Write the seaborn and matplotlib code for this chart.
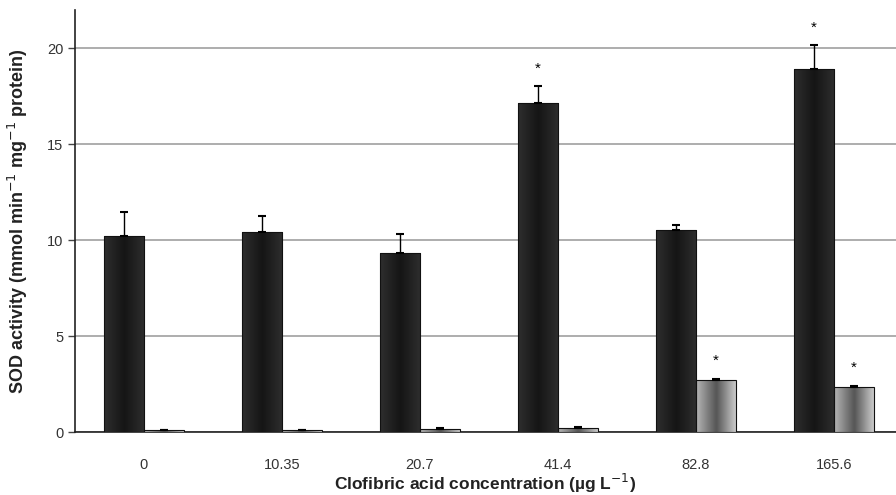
import numpy as np
import pandas as pd
import seaborn as sns
import matplotlib.pyplot as plt
from matplotlib.colors import LinearSegmentedColormap

# data
conc = ['0', '10.35', '20.7', '41.4', '82.8', '165.6']
sod_a = [10.23, 10.45, 9.35, 17.13, 10.55, 18.95]
err_a = [1.25, 0.8, 0.95, 0.9, 0.25, 1.2]
sig_a = [False, False, False, True, False, True]
sod_b = [0.08, 0.08, 0.15, 0.2, 2.72, 2.35]
err_b = [0.02, 0.02, 0.04, 0.04, 0.06, 0.07]
sig_b = [False, False, False, False, True, True]

df = pd.DataFrame({
    'conc': conc * 2,
    'sod': sod_a + sod_b,
    'grp': ['a'] * 6 + ['b'] * 6,
})

sns.set_style('white')
plt.rcParams['font.family'] = ['Liberation Sans', 'DejaVu Sans']

fig = plt.figure(figsize=(8.96, 4.95), dpi=100)
ax = fig.add_axes([75 / 896, 1 - 432 / 495, 1 - 75 / 896, 422 / 495])

sns.barplot(data=df, x='conc', y='sod', hue='grp', order=conc, hue_order=['a', 'b'],
            palette=['#262626', '#8a8a8a'], width=0.58, gap=0, errorbar=None,
            edgecolor='#111111', linewidth=0.8, legend=False, ax=ax, zorder=3)

# cylinder-like shading as in the original
cm_a = LinearSegmentedColormap.from_list('ca', ['#2e2e2e', '#151515', '#2e2e2e'])
cm_b = LinearSegmentedColormap.from_list('cb', ['#b5b5b5', '#555555', '#cfcfcf'])
grad = np.linspace(0, 1, 64).reshape(1, -1)
patches = ax.patches
for i, p in enumerate(patches):
    x0, w, h = p.get_x(), p.get_width(), p.get_height()
    cmap = cm_a if i < 6 else cm_b
    im = ax.imshow(grad, cmap=cmap, extent=[x0, x0 + w, 0, h], aspect='auto',
                   zorder=3.5, interpolation='bicubic')
    im.set_clip_path(p)
    p.set_zorder(4)
    p.set_facecolor('none')

vals = [sod_a, sod_b]
errs = [err_a, err_b]
sigs = [sig_a, sig_b]
for k in range(2):
    xs = [patches[k * 6 + j].get_x() + patches[k * 6 + j].get_width() / 2 for j in range(6)]
    ax.errorbar(xs, vals[k], yerr=[np.zeros(6), errs[k]], fmt='none', ecolor='black',
                elinewidth=1, capsize=3, capthick=1.5, zorder=5)
    for j in range(6):
        if sigs[k][j]:
            ax.text(xs[j], vals[k][j] + errs[k][j] + 0.55, '*', ha='center', va='bottom',
                    fontsize=11, color='black')

ax.set_ylim(0, 22)
ax.set_xlim(-0.5, 5.45)
ax.set_yticks([0, 5, 10, 15, 20])
ax.yaxis.grid(True, color='#a0a0a0', linewidth=1.2, zorder=0)
ax.set_axisbelow(True)
ax.tick_params(axis='y', length=5, width=1, color='#444444', direction='out', left=True,
               labelsize=10.5, labelcolor='#333333')
ax.tick_params(axis='x', length=0, labelsize=10.5, labelcolor='#333333', pad=19)
sns.despine(ax=ax, top=True, right=True)
ax.spines['left'].set_color('#222222')
ax.spines['bottom'].set_color('#222222')
ax.spines['left'].set_linewidth(1.2)
ax.spines['bottom'].set_linewidth(1.2)

ax.set_xlabel('Clofibric acid concentration (µg L$^{-1}$)', fontsize=12.5, fontweight='bold',
              color='#222222', labelpad=0)
ax.set_ylabel('SOD activity (mmol min$^{-1}$ mg$^{-1}$ protein)', fontsize=13,
              fontweight='bold', color='#222222', labelpad=12)

fig.savefig('out.png', dpi=100)
